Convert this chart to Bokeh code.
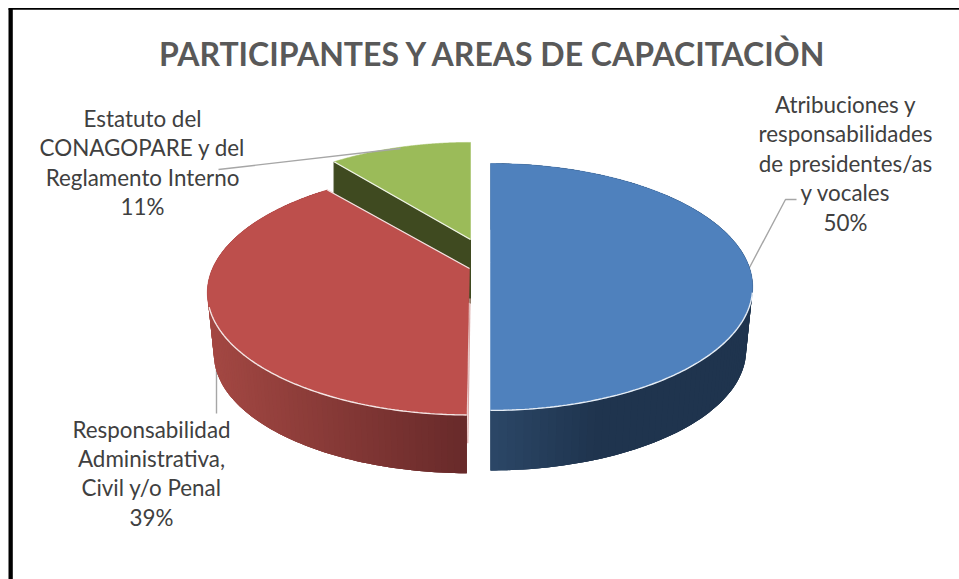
import numpy as np
from bokeh.plotting import figure
from bokeh.models import Range1d
from bokeh.core.properties import value
from bokeh.embed import file_html
from bokeh.resources import INLINE

title = "PARTICIPANTES Y AREAS DE CAPACITACIÒN"
categories = [
    ["Atribuciones y", "responsabilidades", "de presidentes/as", "y vocales"],
    ["Responsabilidad", "Administrativa,", "Civil y/o Penal"],
    ["Estatuto del", "CONAGOPARE y del", "Reglamento Interno"],
]
shares = [50, 39, 11]

# layout of the 3D pie, in page pixels
KEEP = 0.198          # perspective strength
RX = 257.0
RY = 116.3
DEPTH = [63.7, 62.0, 63.7]
SHRINK = 0.975
apex = [(490.0, 262.0), (469.0, 268.0), (470.0, 239.0)]
scale_x = [1.0, 1.0, 0.96]
scale_y = [1.02, 1.01, 1.0]
top_col = ["#4f81bd", "#bd4f4c", "#9bbb59"]
side_from = [(44, 72, 104), (164, 72, 67), (63, 74, 32)]
side_to = [(31, 52, 78), (104, 42, 42), (63, 74, 32)]
label_anchor = [(845, 104), (151, 428.5), (142, 118)]
LINE_H = 29.4
leaders = [
    ([749, 785, 796], [267, 199, 199]),
    ([216, 216], [368, 413]),
    ([218, 400], [169, 148]),
]

W, H = 959, 579
p = figure(width=W, height=H, output_backend="svg", toolbar_location=None,
           x_range=Range1d(0, W), y_range=Range1d(H, 0), min_border=0)
p.axis.visible = False
p.grid.visible = False
p.outline_line_color = None
p.background_fill_color = "white"
p.border_fill_color = "white"


def rim(theta, i, lower=False):
    t = np.radians(theta)
    d = 1 + KEEP * np.cos(t)
    ax, ay = apex[i]
    dx = RX * scale_x[i] * np.sin(t) / d
    dy = -RY * scale_y[i] * np.cos(t) / d
    if lower:
        return ax + SHRINK * dx, ay + DEPTH[i] + SHRINK * dy
    return ax + dx, ay + dy


# slice angles come from the shares (clockwise from 12 o'clock)
edges = np.cumsum([0] + shares) / sum(shares) * 360
spans = [(edges[i], edges[i + 1]) for i in range(3)]
spans[1] = (spans[1][0] + 0.5, spans[1][1])   # cut edge leans slightly in the picture


def draw_side(i):
    a, b = spans[i]
    th = np.linspace(a, b, 121)
    xs, ys, cols = [], [], []
    xt, _ = rim(th, i)
    lo, hi = xt.min(), xt.max()
    order = range(120) if i == 0 else range(119, -1, -1)
    for j in order:
        # each strip overlaps its neighbour so that no seams show
        t0, t1 = (th[j], th[min(j + 3, 120)]) if i == 0 else (th[max(j - 2, 0)], th[j + 1])
        tt = np.linspace(t0, t1, 4)
        xu, yu = rim(tt, i)
        xl, yl = rim(tt[::-1], i, True)
        xs.append(np.r_[xu, xl])
        ys.append(np.r_[yu, yl])
        xm = rim(th[j], i)[0]
        if i == 0:
            f = min(1.0, max(0.0, (xm - 490) / 110))
        else:
            f = (xm - lo) / (hi - lo)
        c = [round(side_from[i][n] + (side_to[i][n] - side_from[i][n]) * f) for n in range(3)]
        cols.append("#%02x%02x%02x" % tuple(c))
    p.patches(xs, ys, fill_color=cols, line_color=None)


def draw_top(i):
    a, b = spans[i]
    th = np.linspace(a, b, 160)
    x, y = rim(th, i)
    ax, ay = apex[i]
    p.patch(np.r_[ax, x], np.r_[ay, y], fill_color=top_col[i], line_color=top_col[i], line_width=0.5)


# green slice: cut wall, then top
g = 2
tx, ty = rim(spans[g][0], g)
ax, ay = apex[g]
p.patch([tx, ax, ax, tx], [ty, ay, ay + DEPTH[g], ty + DEPTH[g]], fill_color="#3f4a20", line_color="#3f4a20")
draw_top(g)
p.line([tx, ax], [ty, ay], line_color="#f2f5ea", line_width=1.3)

# leader lines
for lx, ly in leaders:
    p.line(lx, ly, line_color="#a6a6a6", line_width=1.4)

# red slice
draw_side(1)
draw_top(1)
th = np.linspace(spans[1][0], 252, 100)
x, y = rim(th, 1)
p.line(x, y, line_color="#f4e6e5", line_width=1.4)
tx, ty = rim(spans[1][1], 1)
ax, ay = apex[1]
p.line([tx, ax], [ty, ay], line_color="#f4e6e5", line_width=1.2)
fx, fy = rim(spans[1][0], 1, True)
p.line([ax + 0.5, fx + 1], [ay + 30, fy - 30], line_color="#dca9a7", line_width=1.2)

# blue slice
draw_side(0)
draw_top(0)
th = np.linspace(104, spans[0][1], 100)
x, y = rim(th, 0)
p.line(x, y, line_color="#e6edf5", line_width=1.4)

# frame
p.quad(left=[8, 8], right=[12.3, W], top=[8, 7.5], bottom=[H, 9.2],
       fill_color="black", line_color=None)

# texts
FONT = value("Lato")
p.text([493], [53], text=[title], text_font=FONT, text_font_style="bold",
       text_font_size="32px", text_color="#595959",
       text_align="center", text_baseline="middle")
for i, lines in enumerate(categories):
    all_lines = lines + [f"{shares[i]}%"]
    xa, ya = label_anchor[i]
    p.text([xa] * len(all_lines), [ya + n * LINE_H for n in range(len(all_lines))],
           text=all_lines, text_font=FONT, text_font_size="22.4px",
           text_color="#404040", text_align="center", text_baseline="middle")

open("out.html", "w").write(file_html(p, INLINE))
